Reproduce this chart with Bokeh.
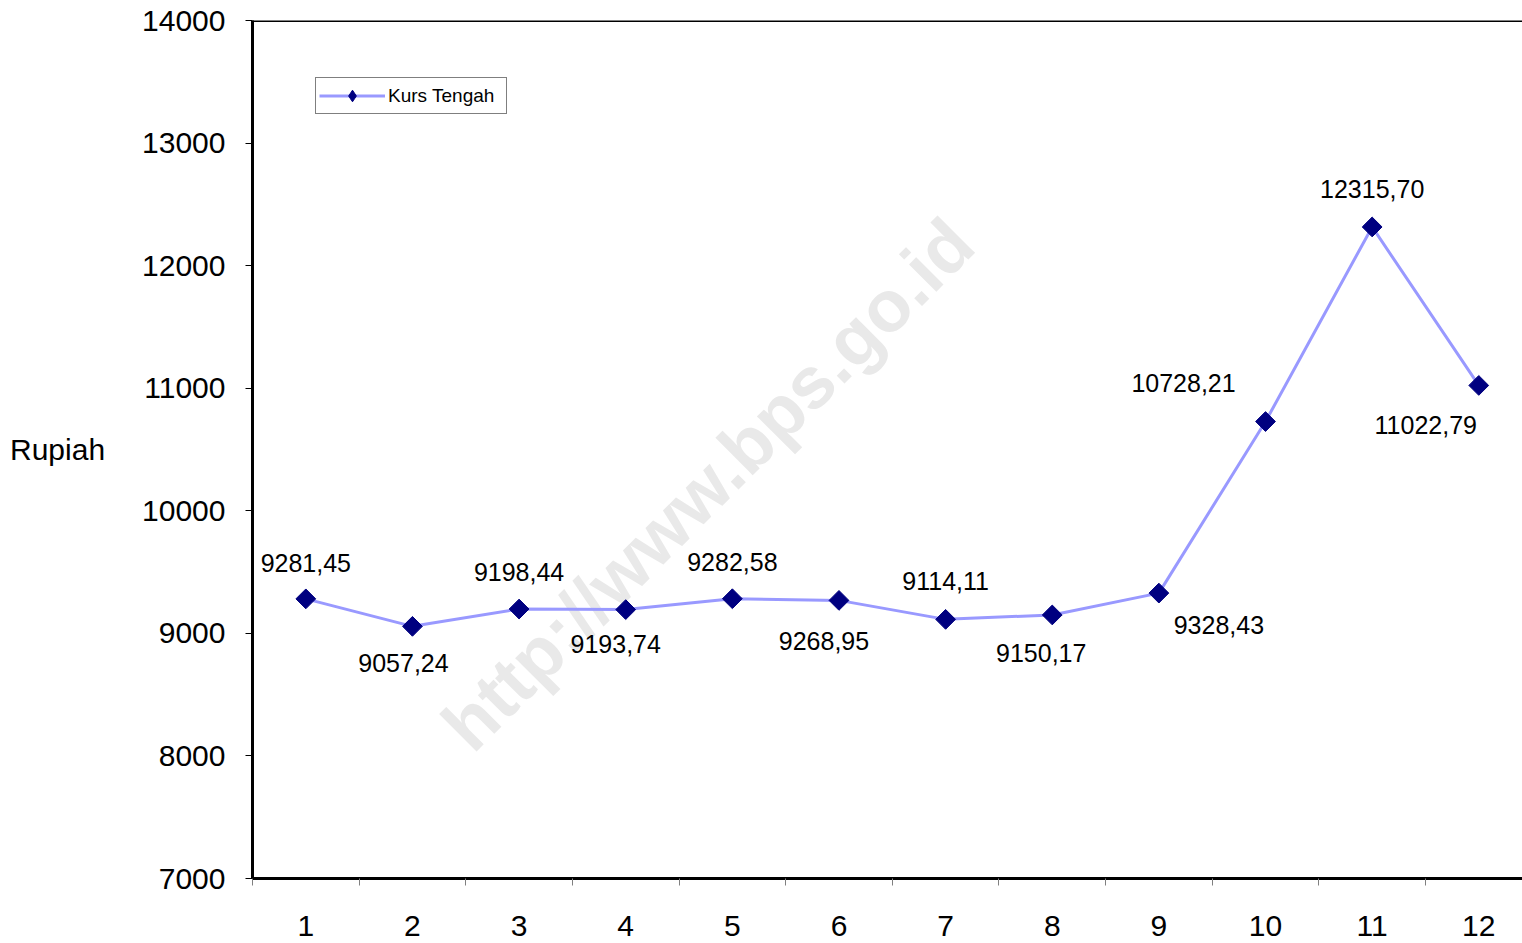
import math
from bokeh.plotting import figure
from bokeh.models import (FixedTicker, Span, Label, Legend, LegendItem,
                          ColumnDataSource, BasicTickFormatter)
from bokeh.embed import file_html
from bokeh.resources import INLINE
from bokeh.core.properties import value

# ---- data ----
months = [1, 2, 3, 4, 5, 6, 7, 8, 9, 10, 11, 12]
kurs_tengah = [9281.45, 9057.24, 9198.44, 9193.74, 9282.58, 9268.95,
               9114.11, 9150.17, 9328.43, 10728.21, 12315.70, 11022.79]
y_ticks = [7000, 8000, 9000, 10000, 11000, 12000, 13000, 14000]
series_name = "Kurs Tengah"
watermark = "http://www.bps.go.id"

# label placement (screen pixels, y positive = down)
label_dx = [0, -9, 0, -10, 0, -15, 0, -11, 60, -82, 0, -53]
label_dy = [-36, 37, -37, 34, -37, 41, -38, 38, 32, -39, -38, 40]

FONT = "Liberation Sans"

labels = [f"{v:.2f}".replace(".", ",") for v in kurs_tengah]
src = ColumnDataSource(dict(x=months, y=kurs_tengah, lab=labels,
                            dx=label_dx, dy=label_dy))

p = figure(width=1522, height=943, output_backend="svg", toolbar_location=None,
           x_range=(0.5, 12.41), y_range=(7000, 14000),
           min_border_left=252, min_border_right=0, min_border_top=20,
           min_border_bottom=65)
p.outline_line_color = None
p.xgrid.visible = False
p.ygrid.visible = False
p.background_fill_color = "white"
p.border_fill_color = "white"

# watermark
wm = Label(x=4.77, y=10218, text=watermark, angle=math.pi / 4,
           text_align="center", text_baseline="middle",
           text_font=FONT, text_font_size="73px", text_font_style="bold",
           text_color="#e9e9e9", level="underlay")
p.add_layout(wm)

# top frame line
p.add_layout(Span(location=14000, dimension="width", line_color="black",
                  line_width=3))

line_r = p.line("x", "y", source=src, line_color="#9999FF", line_width=3)
# diamond used as the legend key (hidden under the rotated squares)
key_r = p.scatter("x", "y", source=src, marker="diamond", size=12,
                  fill_color="#000080", line_color="#000080")
sc_r = p.scatter("x", "y", source=src, marker="square", size=14,
                 angle=math.pi / 4, fill_color="#000080", line_color="#000080")

p.text("x", "y", text="lab", source=src, x_offset="dx", y_offset="dy",
       text_align="center", text_baseline="middle",
       text_font=value(FONT), text_font_size="25px", text_color="black")

# x axis
xa = p.xaxis[0]
xa.ticker = FixedTicker(ticks=months,
                        minor_ticks=[m - 0.5 for m in months] + [12.5])
xa.axis_line_color = "black"
xa.axis_line_width = 3
xa.major_tick_line_color = None
xa.minor_tick_line_color = "#808080"
xa.minor_tick_out = 7
xa.minor_tick_in = 0
xa.major_label_text_font = FONT
xa.major_label_text_font_size = "30px"
xa.major_label_text_color = "black"
xa.major_label_standoff = 30

# y axis
ya = p.yaxis[0]
ya.ticker = FixedTicker(ticks=y_ticks, minor_ticks=[])
ya.formatter = BasicTickFormatter(use_scientific=False)
ya.axis_line_color = "black"
ya.axis_line_width = 3
ya.major_tick_line_color = "black"
ya.major_tick_out = 7
ya.major_tick_in = 0
ya.minor_tick_line_color = None
ya.major_label_text_font = FONT
ya.major_label_text_font_size = "30px"
ya.major_label_text_color = "black"
ya.major_label_standoff = 20
ya.axis_label = "Rupiah"
ya.axis_label_orientation = "horizontal"
ya.axis_label_text_font = FONT
ya.axis_label_text_font_size = "30px"
ya.axis_label_text_font_style = "normal"
ya.axis_label_text_color = "black"
ya.axis_label_standoff = 34

legend = Legend(items=[LegendItem(label=series_name, renderers=[line_r, key_r])],
                location=(63, 764), margin=0, padding=3, spacing=0,
                glyph_width=66, glyph_height=29, label_standoff=3,
                label_width=115,
                label_text_font=FONT, label_text_font_size="19px",
                label_text_color="black", border_line_color="black",
                border_line_width=1, background_fill_color="white",
                background_fill_alpha=1)
p.add_layout(legend)

open("out.html", "w").write(file_html(p, INLINE))
